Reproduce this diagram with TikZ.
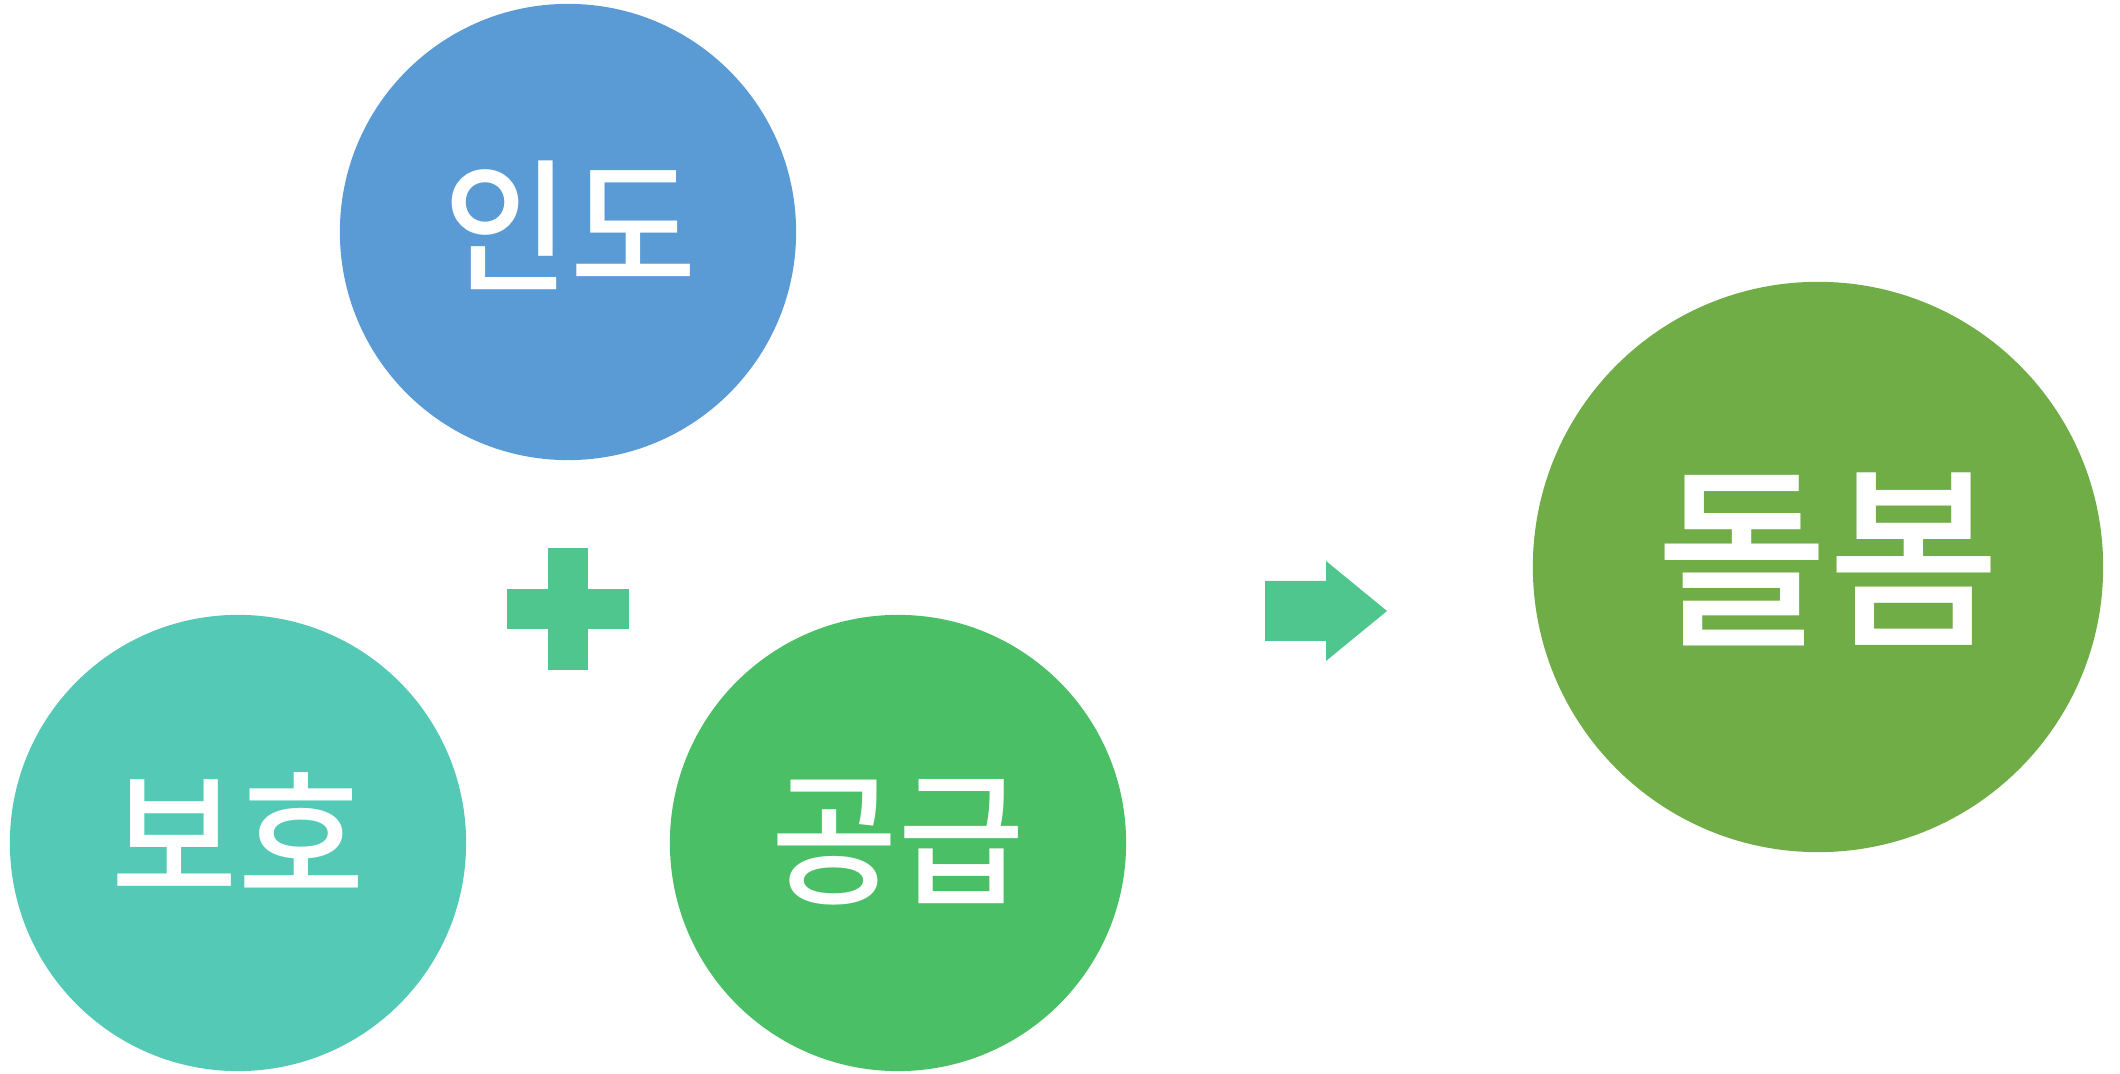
\documentclass[tikz,border=0pt]{standalone}
\usepackage{fontspec}
\newfontfamily\kofont{Noto Sans CJK KR Medium}
\usetikzlibrary{positioning}
\definecolor{indoblue}{HTML}{5B9BD5}
\definecolor{bohoteal}{HTML}{54CAB6}
\definecolor{gonggreen}{HTML}{4ABF65}
\definecolor{dolgreen}{HTML}{70AD47}
\definecolor{signgreen}{HTML}{50C68F}
\newcommand{\tallword}[1]{\scalebox{1}[1.05]{#1}} % glyphs a bit taller than the font
\tikzset{
	x=0.01cm, y=-0.01cm, % one unit is one pixel of the reference
	bubble/.style={circle, inner sep=0pt, minimum size=4.56cm}, % the three small circles
	bigbubble/.style={bubble, minimum size=5.7cm}, % the result circle
	word/.style={text=white, inner sep=0pt, font=\kofont\fontsize{39}{39}\selectfont},
	bigword/.style={word, font=\kofont\fontsize{53}{53}\selectfont},
}

\begin{document}
\begin{tikzpicture}
	\useasboundingbox (0,0) rectangle (2120,1074);

	\node[bubble,fill=indoblue] (indo) at (568,232) {};
	\node[bubble,fill=bohoteal] (boho) at (238,843) {};
	\node[bubble,fill=gonggreen] (gonggeup) at (898,843) {};
	\node[bigbubble,fill=dolgreen] (dolbom) at (1818,567) {};

	\node[word] (indotext) at ([shift={(2,-7)}]indo.center) {\tallword{인도}};
	\node[word] (bohotext) at ([shift={(0,-11)}]boho.center) {\tallword{보호}};
	\node[word] (gonggeuptext) at ([shift={(0,-1)}]gonggeup.center) {\tallword{공급}};
	\node[bigword] (dolbomtext) at ([shift={(10,-8)}]dolbom.center) {\tallword{돌봄}};

	% plus sign between the three circles
	\coordinate (plus) at (568,609);
	\fill[signgreen] ([shift={(-20,-61)}]plus) rectangle ([shift={(20,61)}]plus);
	\fill[signgreen] ([shift={(-61,-20)}]plus) rectangle ([shift={(61,20)}]plus);

	% arrow towards the result
	\coordinate (arrow) at (1265,611);
	\fill[signgreen] ([shift={(0,-30)}]arrow) -- ([shift={(61,-30)}]arrow)
		-- ([shift={(61,-50)}]arrow) -- ([shift={(122,0)}]arrow)
		-- ([shift={(61,50)}]arrow) -- ([shift={(61,30)}]arrow)
		-- ([shift={(0,30)}]arrow) -- cycle;
\end{tikzpicture}
\end{document}
